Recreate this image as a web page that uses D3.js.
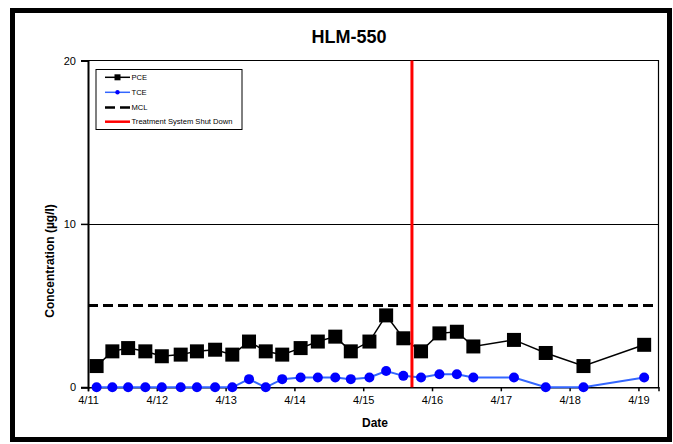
<!DOCTYPE html>
<html>
<head>
<meta charset="utf-8">
<script src="https://cdn.jsdelivr.net/npm/d3@7"></script>
<style>
  body { margin: 0; background: #fff; }
  svg { display: block; font-family: "Liberation Sans", Arial, sans-serif; }
</style>
</head>
<body>
<svg id="chart" width="673" height="444"></svg>
<script>
// ---- data ----
const title = "HLM-550";
const sampleTimes = [
  "4/11 03:00", "4/11 08:30", "4/11 14:00", "4/11 20:00",
  "4/12 01:45", "4/12 08:20", "4/12 14:00", "4/12 20:20",
  "4/13 02:20", "4/13 08:10", "4/13 14:00", "4/13 19:45",
  "4/14 02:10", "4/14 08:10", "4/14 14:15", "4/14 19:40",
  "4/15 02:10", "4/15 08:00", "4/15 14:00", "4/15 20:10",
  "4/16 02:35", "4/16 08:40", "4/16 14:25", "4/17 04:35",
  "4/17 15:40", "4/18 04:50", "4/19 02:00"
];
const pceValues = [1.3, 2.2, 2.4, 2.2, 1.9, 2.0, 2.2, 2.3, 2.0, 2.8, 2.2, 2.0, 2.4, 2.8, 3.1, 2.2,
                   2.8, 4.4, 3.0, 2.2, 3.3, 3.4, 2.5, 2.9, 2.1, 1.3, 2.6];
const tceValues = [0, 0, 0, 0, 0, 0, 0, 0, 0, 0.5, 0, 0.5, 0.6, 0.6, 0.6, 0.5,
                   0.6, 1.0, 0.7, 0.6, 0.8, 0.8, 0.6, 0.6, 0, 0, 0.6];
const mclValue = 5;
const shutDownTime = "4/15 17:00";
const xTickLabels = ["4/11", "4/12", "4/13", "4/14", "4/15", "4/16", "4/17", "4/18", "4/19"];
const yTickValues = [0, 10, 20];
const xDomain = ["4/11 00:00", "4/19 07:00"];
const legendLabels = ["PCE", "TCE", "MCL", "Treatment System Shut Down"];

// ---- setup ----
const parse = d3.timeParse("%m/%d %H:%M");
const parseDay = d3.timeParse("%m/%d");
const svg = d3.select("#chart");
const m = { left: 88, right: 658.5, top: 60.5, bottom: 387.3 };

const x = d3.scaleTime().domain(xDomain.map(parse)).range([m.left, m.right]);
const y = d3.scaleLinear().domain([0, 20]).range([m.bottom, m.top]);

// outer frame
svg.append("rect").attr("x", 12.5).attr("y", 10.5).attr("width", 657).attr("height", 429)
  .attr("fill", "#fff").attr("stroke", "#000").attr("stroke-width", 5);

// title
svg.append("text").attr("x", 349).attr("y", 43).attr("text-anchor", "middle")
  .attr("font-size", 18).attr("font-weight", "bold").text(title);

// plot box (top & right)
svg.append("path")
  .attr("d", `M${m.left},${m.top}H${m.right}V${m.bottom}`)
  .attr("fill", "none").attr("stroke", "#000").attr("stroke-width", 1.2);

// gridline at 10
svg.append("line").attr("x1", m.left).attr("x2", m.right)
  .attr("y1", Math.round(y(10)) + 0.5).attr("y2", Math.round(y(10)) + 0.5)
  .attr("stroke", "#000").attr("stroke-width", 1.2);

// y axis
const yAxis = d3.axisLeft(y).tickValues(yTickValues).tickSize(7).tickPadding(5);
const yg = svg.append("g").attr("transform", `translate(${m.left},0)`).call(yAxis);
yg.select(".domain").attr("stroke-width", 2);
yg.selectAll(".tick line").attr("stroke-width", 1.5);
yg.selectAll("text").attr("font-size", 11).attr("font-family", "Liberation Sans, Arial, sans-serif").attr("fill", "#000");

// x axis
const xAxis = d3.axisBottom(x).tickValues(xTickLabels.map(parseDay)).tickSize(4).tickPadding(5)
  .tickFormat((d, i) => xTickLabels[i]);
const xg = svg.append("g").attr("transform", `translate(0,${m.bottom})`).call(xAxis);
xg.select(".domain").attr("stroke-width", 1.5);
xg.selectAll(".tick line").attr("stroke-width", 1.5);
xg.selectAll("text").attr("font-size", 11).attr("font-family", "Liberation Sans, Arial, sans-serif").attr("fill", "#000");

// axis titles
svg.append("text").attr("x", 375).attr("y", 427).attr("text-anchor", "middle")
  .attr("font-size", 12).attr("font-weight", "bold").text("Date");
svg.append("text").attr("transform", "translate(54,261) rotate(-90)").attr("text-anchor", "middle")
  .attr("font-size", 12).attr("font-weight", "bold").text("Concentration (µg/l)");

// MCL line
svg.append("line").attr("x1", m.left).attr("x2", m.right)
  .attr("y1", y(mclValue)).attr("y2", y(mclValue))
  .attr("stroke", "#000").attr("stroke-width", 3).attr("stroke-dasharray", "10,5");

const pts = sampleTimes.map((t, i) => ({ t: parse(t), pce: pceValues[i], tce: tceValues[i] }));

// TCE
svg.append("path").datum(pts)
  .attr("d", d3.line().x(d => x(d.t)).y(d => y(d.tce)))
  .attr("fill", "none").attr("stroke", "#3366FF").attr("stroke-width", 2);
svg.append("g").selectAll("circle").data(pts).join("circle")
  .attr("cx", d => x(d.t)).attr("cy", d => y(d.tce)).attr("r", 5).attr("fill", "#0000FF");

// PCE
svg.append("path").datum(pts)
  .attr("d", d3.line().x(d => x(d.t)).y(d => y(d.pce)))
  .attr("fill", "none").attr("stroke", "#000").attr("stroke-width", 1.5);
const sq = 14;
svg.append("g").selectAll("rect").data(pts).join("rect")
  .attr("x", d => x(d.t) - sq / 2).attr("y", d => y(d.pce) - sq / 2)
  .attr("width", sq).attr("height", sq).attr("fill", "#000");

// Shut-down line
svg.append("line").attr("x1", x(parse(shutDownTime))).attr("x2", x(parse(shutDownTime)))
  .attr("y1", m.top).attr("y2", m.bottom).attr("stroke", "#FF0000").attr("stroke-width", 3);

// legend
const lg = svg.append("g");
lg.append("rect").attr("x", 96).attr("y", 69.5).attr("width", 146).attr("height", 60)
  .attr("fill", "#fff").attr("stroke", "#000").attr("stroke-width", 1);
const ly = [77.3, 92.3, 107.5, 121.7];
const lx1 = 105, lx2 = 130;
lg.append("line").attr("x1", lx1).attr("x2", lx2).attr("y1", ly[0]).attr("y2", ly[0]).attr("stroke", "#000").attr("stroke-width", 1.5);
lg.append("rect").attr("x", (lx1 + lx2) / 2 - 3).attr("y", ly[0] - 3).attr("width", 6).attr("height", 6).attr("fill", "#000");
lg.append("line").attr("x1", lx1).attr("x2", lx2).attr("y1", ly[1]).attr("y2", ly[1]).attr("stroke", "#3366FF").attr("stroke-width", 1.5);
lg.append("circle").attr("cx", (lx1 + lx2) / 2).attr("cy", ly[1]).attr("r", 2.2).attr("fill", "#0000FF");
lg.append("line").attr("x1", lx1).attr("x2", lx2).attr("y1", ly[2]).attr("y2", ly[2]).attr("stroke", "#000").attr("stroke-width", 2.5).attr("stroke-dasharray", "10,5");
lg.append("line").attr("x1", lx1).attr("x2", lx2).attr("y1", ly[3]).attr("y2", ly[3]).attr("stroke", "#FF0000").attr("stroke-width", 2.5);
lg.selectAll("text.lt").data(legendLabels).join("text").attr("class", "lt")
  .attr("x", 131.5).attr("y", (d, i) => ly[i] + 2.7).attr("font-size", 7.6).text(d => d);
</script>
</body>
</html>
